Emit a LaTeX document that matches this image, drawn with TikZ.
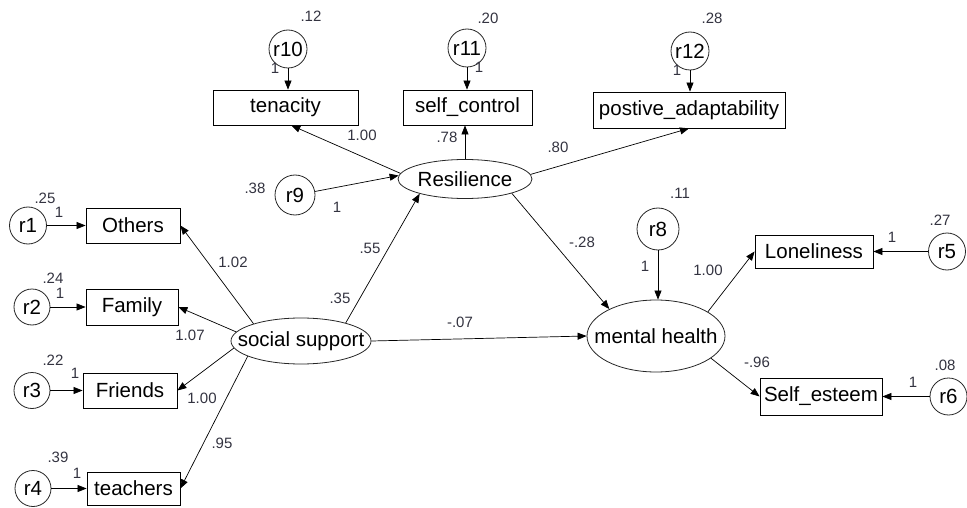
\documentclass[tikz,border=0pt]{standalone}
\usepackage{fontspec}
\setmainfont{Liberation Sans}
\usetikzlibrary{shapes.geometric,arrows.meta}
\definecolor{lab}{HTML}{333340}
\newcommand{\zw}[1]{\makebox[0pt]{#1}}
\tikzset{
  obs/.style={draw=black, line width=0.8pt, rectangle, inner sep=0pt, font=\fontsize{20.5}{20.5}\selectfont},
  lat/.style={draw=black!85, line width=0.8pt, ellipse, inner sep=0pt, font=\fontsize{20.5}{20.5}\selectfont},
  err/.style={draw=black!85, line width=0.8pt, circle, inner sep=0pt, minimum size=38pt, font=\fontsize{20.5}{20.5}\selectfont},
  lbl/.style={inner sep=0pt, text=lab, font=\fontsize{15}{15}\selectfont},
  path/.style={draw=black, line width=0.7pt, -{Triangle[length=9pt,width=7pt]}}
}
\begin{document}
\begin{tikzpicture}[x=1pt,y=-1pt]
\useasboundingbox (0,0) rectangle (967,508);
% resilience part
\node[obs, minimum width=145pt, minimum height=35pt] (ten) at (285.5,107.5) {tenacity};
\node[obs, minimum width=129pt, minimum height=35pt] (sc) at (467.5,107.5) {self\_control};
\node[obs, minimum width=192pt, minimum height=36pt] (pos) at (689,110) {postive\_adaptability};
\node[lat, minimum width=134pt, minimum height=39pt] (res) at (465,179) {\zw{Resilience}};
\node[err, minimum size=40pt] (r9) at (295,195) {\zw{r9}};
\node[err] (r10) at (288,49) {\zw{r10}};
\node[err] (r11) at (467,48) {\zw{r11}};
\node[err] (r12) at (690,51) {\zw{r12}};
% social support part
\node[obs, minimum width=94pt, minimum height=35pt] (oth) at (133,225.5) {Others};
\node[obs, minimum width=92pt, minimum height=36pt] (fam) at (132,307) {Family};
\node[obs, minimum width=94pt, minimum height=35pt] (fri) at (130,390.5) {Friends};
\node[obs, minimum width=93pt, minimum height=33pt] (tea) at (133.5,488.5) {teachers};
\node[err, minimum size=37pt] (r1) at (28,225.5) {\zw{r1}};
\node[err, minimum size=36pt] (r2) at (32,307) {\zw{r2}};
\node[err, minimum size=36pt] (r3) at (32,390.5) {\zw{r3}};
\node[err, minimum size=36pt] (r4) at (33,488.5) {\zw{r4}};
\node[lat, minimum width=140pt, minimum height=46pt] (ss) at (301,341) {\zw{social support}};
% mental health part
\node[lat, minimum width=138pt, minimum height=72pt] (mh) at (656,336) {\zw{mental health}};
\node[err, minimum size=42pt] (r8) at (658,229) {\zw{r8}};
\node[obs, minimum width=118pt, minimum height=33pt] (lon) at (814,251.5) {Loneliness};
\node[obs, minimum width=122pt, minimum height=37pt] (se) at (821,396.5) {Self\_esteem};
\node[err, minimum size=37pt] (r5) at (947,251.5) {\zw{r5}};
\node[err, minimum size=37pt] (r6) at (948.5,396.5) {\zw{r6}};
% paths
\draw[path] (r10) -- (r10 |- ten.north);
\draw[path] (r11) -- (r11 |- sc.north);
\draw[path] (r12) -- (r12 |- pos.north);
\draw[path] (r9.10) -- (res.177);
\draw[path] (res.175) -- (ten.288);
\draw[path] (res.north) -- (res.north |- sc.south);
\draw[path] (res.4) -- (pos.south);
\draw[path] (r1) -- (oth);
\draw[path] (r2) -- (fam);
\draw[path] (r3) -- (fri);
\draw[path] (r4) -- (tea);
\draw[path] (ss.160) -- (oth.east);
\draw[path] (ss.172) -- (fam.east);
\draw[path] (ss.186) -- (fri.east);
\draw[path] (ss.196) -- (tea.east);
\draw[path] (ss.22) -- (res.198);
\draw[path] (ss.east) -- (mh.west);
\draw[path] (res.343) -- (mh.150);
\draw[path] (r8) -- (r8 |- mh.north);
\draw[path] (mh.25) -- (lon.west);
\draw[path] (mh.338) -- (se.west);
\draw[path] (r5) -- (lon);
\draw[path] (r6) -- (se);
% labels
\node[lbl] (l1) at (311,16) {.12};
\node[lbl] (l2) at (275,68) {1};
\node[lbl] (l3) at (488,18) {.20};
\node[lbl] (l4) at (479,67) {1};
\node[lbl] (l5) at (712,18) {.28};
\node[lbl] (l6) at (677,70) {1};
\node[lbl] (l7) at (255,188) {.38};
\node[lbl] (l8) at (337,207) {1};
\node[lbl] (l9) at (362,135) {1.00};
\node[lbl] (l10) at (447,137) {.78};
\node[lbl] (l11) at (558,147) {.80};
\node[lbl] (l12) at (45,198) {.25};
\node[lbl] (l13) at (59,212) {1};
\node[lbl] (l14) at (53,278) {.24};
\node[lbl] (l15) at (60,293) {1};
\node[lbl] (l16) at (53,360) {.22};
\node[lbl] (l17) at (75,373) {1};
\node[lbl] (l18) at (58,457) {.39};
\node[lbl] (l19) at (77,473) {1};
\node[lbl] (l20) at (233,262) {1.02};
\node[lbl] (l21) at (190,335) {1.07};
\node[lbl] (l22) at (202,398) {1.00};
\node[lbl] (l23) at (222,443) {.95};
\node[lbl] (l24) at (370,248) {.55};
\node[lbl] (l25) at (340,298) {.35};
\node[lbl] (l26) at (460,322) {-.07};
\node[lbl] (l27) at (582,242) {-.28};
\node[lbl] (l28) at (680,193) {.11};
\node[lbl] (l29) at (645,266) {1};
\node[lbl] (l30) at (940,220) {.27};
\node[lbl] (l31) at (892,237) {1};
\node[lbl] (l32) at (708,270) {1.00};
\node[lbl] (l33) at (945,365) {.08};
\node[lbl] (l34) at (913,382) {1};
\node[lbl] (l35) at (757,362) {-.96};
\end{tikzpicture}
\end{document}
